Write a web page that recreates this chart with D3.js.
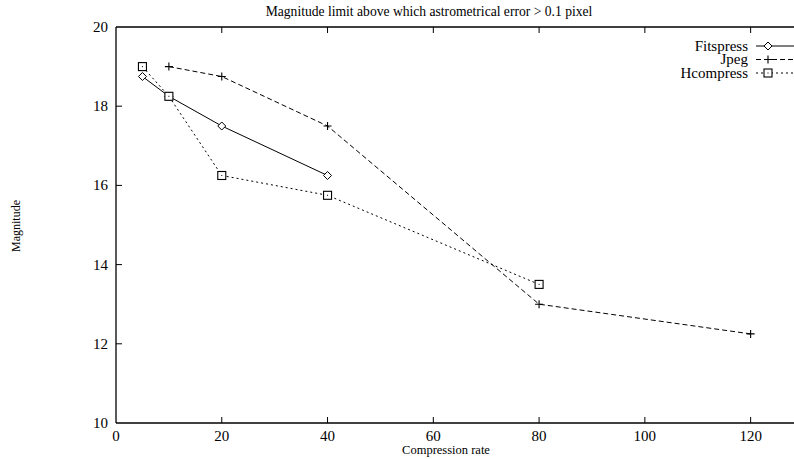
<!DOCTYPE html>
<html><head><meta charset="utf-8">
<script src="https://cdn.jsdelivr.net/npm/d3@7"></script>
<style>body{margin:0;background:#fff}svg{display:block}</style>
</head><body><svg id="c" width="794" height="459" font-family="'Liberation Serif', 'DejaVu Serif', serif"></svg>
<script>
const xTicks = [0,20,40,60,80,100,120];
const yTicks = [10,12,14,16,18,20];
const fitsX = [5,10,20,40];
const fitsY = [18.75,18.25,17.5,16.25];
const jpegX = [10,20,40,80,120];
const jpegY = [19,18.75,17.5,13,12.25];
const hcompX = [5,10,20,40,80];
const hcompY = [19,18.25,16.25,15.75,13.5];
const seriesNames = ["Fitspress","Jpeg","Hcompress"];

const svg = d3.select("#c");
const x = d3.scaleLinear().domain([0,128.2]).range([116,794]);
const y = d3.scaleLinear().domain([10,20]).range([423,27]);

const g = svg.append("g").attr("stroke","#000").attr("stroke-width",1.3).attr("fill","none");
g.append("line").attr("x1",x(0)).attr("x2",794).attr("y1",y(10)).attr("y2",y(10));
g.append("line").attr("x1",x(0)).attr("x2",794).attr("y1",y(20)).attr("y2",y(20));
g.append("line").attr("x1",x(0)).attr("x2",x(0)).attr("y1",y(10)).attr("y2",y(20));

const tk = svg.append("g").attr("stroke","#000").attr("stroke-width",1);
xTicks.filter(d=>d>0).forEach(d=>{
  tk.append("line").attr("x1",x(d)).attr("x2",x(d)).attr("y1",y(10)).attr("y2",y(10)-6);
  tk.append("line").attr("x1",x(d)).attr("x2",x(d)).attr("y1",y(20)).attr("y2",y(20)+6);
});
yTicks.filter(d=>d>10&&d<20).forEach(d=>{
  tk.append("line").attr("x1",x(0)).attr("x2",x(0)+6).attr("y1",y(d)).attr("y2",y(d));
});

xTicks.forEach(d=>{
  svg.append("text").attr("x",x(d)).attr("y",y(10)+18).attr("text-anchor","middle").attr("font-size",15).text(d);
});
yTicks.forEach(d=>{
  svg.append("text").attr("x",x(0)-8).attr("y",y(d)+5).attr("text-anchor","end").attr("font-size",15).text(d);
});

svg.append("text").attr("x",429).attr("y",16).attr("text-anchor","middle").attr("font-size",13.6)
  .text("Magnitude limit above which astrometrical error > 0.1 pixel");
svg.append("text").attr("x",446).attr("y",454).attr("text-anchor","middle").attr("font-size",12.5).text("Compression rate");
svg.append("text").attr("transform","translate(20,226) rotate(-90)").attr("text-anchor","middle").attr("font-size",12).text("Magnitude");

const styles = [
  {dash:null, marker:"diamond"},
  {dash:"5,3", marker:"plus"},
  {dash:"2,3", marker:"square"}
];
const data = [
  fitsX.map((d,i)=>[d,fitsY[i]]),
  jpegX.map((d,i)=>[d,jpegY[i]]),
  hcompX.map((d,i)=>[d,hcompY[i]])
];
const line = d3.line().x(d=>x(d[0])).y(d=>y(d[1]));

function marker(sel, type, cx, cy){
  if(type==="diamond"){
    sel.append("path").attr("d",`M${cx-4},${cy}L${cx},${cy-4}L${cx+4},${cy}L${cx},${cy+4}Z`)
      .attr("fill","#fff").attr("stroke","#000").attr("stroke-width",1);
  } else if(type==="plus"){
    sel.append("path").attr("d",`M${cx-4},${cy}H${cx+4}M${cx},${cy-4}V${cy+4}`)
      .attr("fill","none").attr("stroke","#000").attr("stroke-width",1.1);
  } else {
    sel.append("rect").attr("x",cx-4).attr("y",cy-4).attr("width",8).attr("height",8)
      .attr("fill","#fff").attr("stroke","#000").attr("stroke-width",1.1);
    sel.append("rect").attr("x",cx-0.5).attr("y",cy-0.5).attr("width",1).attr("height",1).attr("fill","#000");
  }
}

data.forEach((s,i)=>{
  svg.append("path").datum(s).attr("d",line).attr("fill","none").attr("stroke","#000")
    .attr("stroke-width",1).attr("stroke-dasharray",styles[i].dash);
});
data.forEach((s,i)=>{
  const mg = svg.append("g");
  s.forEach(p=>marker(mg, styles[i].marker, x(p[0]), y(p[1])));
});

seriesNames.forEach((n,i)=>{
  const ly = 46 + i*13.5;
  svg.append("text").attr("x",748).attr("y",ly+4.5).attr("text-anchor","end").attr("font-size",15).text(n);
  svg.append("line").attr("x1",756).attr("x2",794).attr("y1",ly).attr("y2",ly).attr("stroke","#000")
    .attr("stroke-width",1).attr("stroke-dasharray",styles[i].dash);
  marker(svg.append("g"), styles[i].marker, 768, ly);
});
</script></body></html>
